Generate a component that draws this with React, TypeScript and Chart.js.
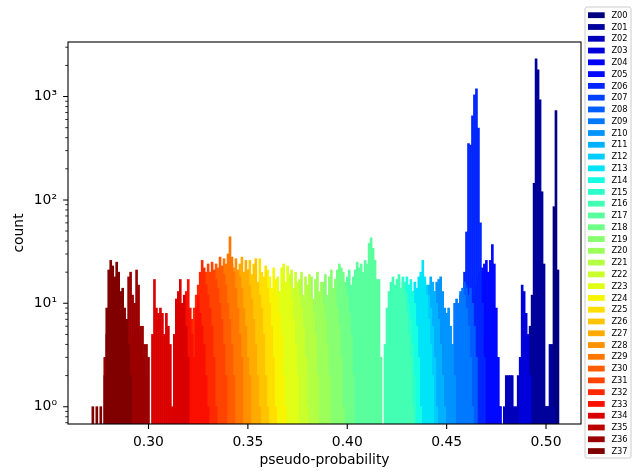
import React, { useEffect, useRef } from 'react';
import { Chart, registerables } from 'chart.js';

Chart.register(...registerables);

// ---------- data ----------
const seriesNames = [
  'Z00', 'Z01', 'Z02', 'Z03', 'Z04', 'Z05', 'Z06', 'Z07', 'Z08', 'Z09',
  'Z10', 'Z11', 'Z12', 'Z13', 'Z14', 'Z15', 'Z16', 'Z17', 'Z18', 'Z19',
  'Z20', 'Z21', 'Z22', 'Z23', 'Z24', 'Z25', 'Z26', 'Z27', 'Z28', 'Z29',
  'Z30', 'Z31', 'Z32', 'Z33', 'Z34', 'Z35', 'Z36', 'Z37',
];
const binWidth = 0.001;
// centre of the first bin of each series
const seriesStart = [
  0.499, 0.490, 0.477, 0.487, 0.461, 0.465, 0.458, 0.455, 0.453, 0.452,
  0.440, 0.436, 0.432, 0.429, 0.424, 0.421, 0.419, 0.399, 0.389, 0.383,
  0.377, 0.371, 0.365, 0.360, 0.354, 0.349, 0.344, 0.339, 0.335, 0.331,
  0.327, 0.323, 0.319, 0.316, 0.302, 0.289, 0.278, 0.272,
];
const Z00 = [1, 1, 1, 1, 3, 86, 730, 21];
const Z01 = [1, 3, 6, 12, 145, 2320, 1815, 930, 120, 24, 1, 1, 4, 4, 1];
const Z02 = [1, 0, 1, 2, 2, 2, 2, 1, 1, 2];
const Z03 = [3, 15, 13, 8, 5, 2];
const Z04 = [3, 6, 9, 12, 15, 18, 20, 16, 12, 8, 5, 2];
const Z05 = [4, 8, 12, 22, 24, 26, 20, 26, 37, 24, 9, 3, 1];
const Z06 = [8, 20, 49, 350, 340, 650, 1040, 1190, 495, 60, 10, 3];
const Z07 = [2, 4, 7, 10, 13, 15, 12, 9, 6, 3];
const Z08 = [1, 3, 6, 9, 12, 13, 16, 14, 12, 14, 10, 6, 3];
const Z09 = [2, 4, 10, 11, 10, 13, 14, 12, 9, 6, 3, 1];
const Z10 = [2, 4, 7, 10, 13, 16, 17, 18, 13, 9, 8, 9, 6, 4, 2];
const Z11 = [2, 4, 6, 9, 12, 15, 18, 16, 13, 10, 7, 4, 2, 1];
const Z12 = [2, 4, 7, 10, 13, 16, 19, 17, 15, 12, 9, 6, 3, 1];
const Z13 = [2, 4, 7, 10, 13, 16, 14, 18, 20, 26, 18, 12, 7, 4, 2];
const Z14 = [2, 4, 7, 10, 13, 16, 18, 15, 17, 13, 10, 6, 3, 1];
const Z15 = [2, 5, 9, 12, 15, 17, 14, 18, 16, 13, 10, 7, 4, 2];
const Z16 = [4, 9, 13, 16, 18, 15, 17, 19, 14, 16, 12, 8, 5, 3, 1];
const Z17 = [12, 18, 21, 15, 18, 21, 25, 22, 24, 20, 26, 24, 38, 43, 34, 26, 17, 17, 3];
const Z18 = [2, 4, 7, 10, 13, 17, 21, 24, 22, 20, 16, 12, 8, 5, 2];
const Z19 = [2, 5, 8, 12, 9, 16, 19, 12, 18, 21, 14, 17, 9, 6, 3, 1];
const Z20 = [3, 6, 10, 8, 14, 18, 11, 17, 20, 13, 16, 10, 7, 4, 2];
const Z21 = [2, 5, 9, 13, 10, 17, 20, 12, 18, 15, 19, 11, 8, 5, 2];
const Z22 = [2, 4, 8, 11, 15, 12, 19, 21, 14, 20, 16, 12, 9, 6, 3, 1];
const Z23 = [2, 4, 7, 11, 14, 18, 13, 22, 24, 16, 23, 15, 11, 7, 4, 2];
const Z24 = [2, 5, 8, 12, 10, 16, 21, 18, 14, 22, 17, 12, 8, 5, 2, 1];
const Z25 = [3, 6, 10, 13, 17, 21, 16, 27, 20, 18, 23, 14, 10, 6, 3, 1];
const Z26 = [2, 5, 8, 12, 17, 14, 21, 26, 19, 24, 27, 16, 12, 9, 5, 2, 1];
const Z27 = [2, 4, 7, 11, 15, 19, 14, 24, 28, 20, 26, 21, 15, 11, 7, 4, 2, 1];
const Z28 = [2, 3, 5, 8, 12, 16, 20, 24, 22, 27, 21, 18, 14, 9, 6, 3, 2];
const Z29 = [2, 4, 6, 9, 13, 18, 22, 27, 24, 30, 44, 28, 20, 14, 9, 5, 3];
const Z30 = [2, 3, 6, 9, 12, 16, 20, 24, 22, 28, 23, 19, 15, 10, 7, 4, 2];
const Z31 = [2, 4, 6, 9, 12, 16, 20, 24, 20, 25, 21, 17, 14, 10, 7, 4, 2];
const Z32 = [2, 3, 5, 7, 9, 12, 15, 20, 26, 22, 15, 12, 9, 6, 3, 1];
const Z33 = [3, 5, 8, 13, 17, 9, 5, 3, 9, 12, 8, 6, 4, 2, 1];
const Z34 = [5, 17, 9, 8, 9, 8, 5, 8, 6, 4, 1, 5, 11, 13, 17, 10, 12, 6, 3];
const Z35 = [2, 3, 4, 5, 4, 6, 5, 4, 3, 2, 2];
const Z36 = [3, 5, 8, 10, 12, 11, 9, 10, 8, 7, 6, 6, 18, 20, 12, 10, 21, 15, 6, 6, 4, 4, 3];
const Z37 = [1, 0, 1, 0, 1, 0, 2, 9, 21, 26, 23, 18, 25, 20, 13, 14, 9, 7, 4, 2];
const seriesCounts = [
  Z00, Z01, Z02, Z03, Z04, Z05, Z06, Z07, Z08, Z09,
  Z10, Z11, Z12, Z13, Z14, Z15, Z16, Z17, Z18, Z19,
  Z20, Z21, Z22, Z23, Z24, Z25, Z26, Z27, Z28, Z29,
  Z30, Z31, Z32, Z33, Z34, Z35, Z36, Z37,
];
const xTicks = [0.3, 0.35, 0.4, 0.45, 0.5];
const xTickLabels = ['0.30', '0.35', '0.40', '0.45', '0.50'];
const yMajorTicks = [1, 10, 100, 1000];
const yTickLabels = ['10\u2070', '10\u00b9', '10\u00b2', '10\u00b3'];
const xLimits = [0.2595, 0.5176];
const yLimits = [0.68, 3370];
const xTitle = 'pseudo-probability';
const yTitle = 'count';

// ---------- styling helpers ----------
const FONT = '"DejaVu Sans", "Liberation Sans", sans-serif';
const jetR = [[0, 0], [0.35, 0], [0.66, 1], [0.89, 1], [1, 0.5]];
const jetG = [[0, 0], [0.125, 0], [0.375, 1], [0.64, 1], [0.91, 0], [1, 0]];
const jetB = [[0, 0.5], [0.11, 1], [0.34, 1], [0.65, 0], [1, 0]];
function seg(pts: number[][], t: number) {
  for (let i = 1; i < pts.length; i++) {
    if (t <= pts[i][0]) {
      const [x0, y0] = pts[i - 1];
      const [x1, y1] = pts[i];
      return y0 + ((t - x0) / (x1 - x0)) * (y1 - y0);
    }
  }
  return pts[pts.length - 1][1];
}
function jet(t: number) {
  const q = Math.min(Math.floor(t * 256), 255) / 255;
  const c = [seg(jetR, q), seg(jetG, q), seg(jetB, q)].map((v) => Math.round(v * 255));
  return `rgb(${c[0]},${c[1]},${c[2]})`;
}
const colors = seriesNames.map((_, i) => jet(i / (seriesNames.length - 1)));

const mplPlugin = {
  id: 'mplDecor',
  afterDraw(chart: any) {
    const { ctx, chartArea: a, scales } = chart;
    const xs = scales.x;
    const ys = scales.y;
    ctx.save();
    ctx.strokeStyle = '#000';
    ctx.lineWidth = 1.1;
    ctx.beginPath();
    xTicks.forEach((v) => {
      const p = xs.getPixelForValue(v);
      ctx.moveTo(p, a.bottom);
      ctx.lineTo(p, a.bottom + 4.9);
    });
    yMajorTicks.forEach((v) => {
      const p = ys.getPixelForValue(v);
      ctx.moveTo(a.left - 4.9, p);
      ctx.lineTo(a.left, p);
    });
    ctx.stroke();
    ctx.lineWidth = 0.8;
    ctx.beginPath();
    for (let d = -1; d <= 3; d++) {
      for (let m = 2; m <= 9; m++) {
        const v = m * Math.pow(10, d);
        if (v < ys.min || v > ys.max) continue;
        const p = ys.getPixelForValue(v);
        ctx.moveTo(a.left - 2.8, p);
        ctx.lineTo(a.left, p);
      }
    }
    ctx.stroke();
    ctx.lineWidth = 1.1;
    ctx.strokeRect(a.left, a.top, a.right - a.left, a.bottom - a.top);

    // legend
    const lx = 585, ly = 7, lw = 46, lh = 451, r = 2;
    ctx.beginPath();
    ctx.moveTo(lx + r, ly);
    ctx.lineTo(lx + lw - r, ly);
    ctx.quadraticCurveTo(lx + lw, ly, lx + lw, ly + r);
    ctx.lineTo(lx + lw, ly + lh - r);
    ctx.quadraticCurveTo(lx + lw, ly + lh, lx + lw - r, ly + lh);
    ctx.lineTo(lx + r, ly + lh);
    ctx.quadraticCurveTo(lx, ly + lh, lx, ly + lh - r);
    ctx.lineTo(lx, ly + r);
    ctx.quadraticCurveTo(lx, ly, lx + r, ly);
    ctx.closePath();
    ctx.fillStyle = 'rgba(255,255,255,0.8)';
    ctx.fill();
    ctx.strokeStyle = '#cccccc';
    ctx.lineWidth = 1;
    ctx.stroke();
    ctx.font = `8.3px ${FONT}`;
    ctx.textBaseline = 'middle';
    ctx.textAlign = 'left';
    seriesNames.forEach((name, i) => {
      const cy = 15.2 + i * 11.78;
      ctx.fillStyle = colors[i];
      ctx.fillRect(588, cy - 2.9, 16.7, 5.8);
      ctx.fillStyle = '#000';
      ctx.fillText(name, 611.4, cy + 0.5);
    });
    ctx.restore();
  },
};

export default function App() {
  const ref = useRef<HTMLCanvasElement>(null);
  useEffect(() => {
    document.body.style.margin = '0';
    const datasets = seriesNames.map((name, i) => ({
      label: name,
      data: seriesCounts[i]
        .map((c, k) => ({ x: Math.round((seriesStart[i] + k * binWidth) * 1e6) / 1e6, y: c }))
        .filter((p) => p.y > 0),
      backgroundColor: colors[i],
      borderWidth: 0,
      order: seriesNames.length - i,
      grouped: false,
      barPercentage: 1,
      categoryPercentage: 1,
    }));
    const chart = new Chart(ref.current as HTMLCanvasElement, {
      type: 'bar',
      data: { datasets } as any,
      plugins: [mplPlugin],
      options: {
        animation: false,
        responsive: false,
        maintainAspectRatio: false,
        layout: { padding: { top: 42, right: 58, left: 0, bottom: 0 } },
        plugins: { legend: { display: false }, tooltip: { enabled: false } },
        scales: {
          x: {
            type: 'linear',
            min: xLimits[0],
            max: xLimits[1],
            offset: false,
            grid: { display: false, drawTicks: false },
            border: { display: false },
            afterBuildTicks: (s: any) => {
              s.ticks = xTicks.map((v) => ({ value: v }));
            },
            afterFit: (s: any) => {
              s.height = 48;
            },
            ticks: {
              autoSkip: false,
              maxRotation: 0,
              padding: 10,
              color: '#000',
              font: { family: FONT, size: 13.9 },
              callback: (v: any) => xTickLabels[xTicks.indexOf(v)] ?? '',
            },
            title: {
              display: true,
              text: xTitle,
              color: '#000',
              font: { family: FONT, size: 13.9 },
              padding: { top: 0, bottom: 3 },
            },
          },
          y: {
            type: 'logarithmic',
            min: yLimits[0],
            max: yLimits[1],
            grid: { display: false, drawTicks: false },
            border: { display: false },
            afterBuildTicks: (s: any) => {
              s.ticks = yMajorTicks.map((v) => ({ value: v }));
            },
            afterFit: (s: any) => {
              s.width = 68;
            },
            ticks: {
              autoSkip: false,
              padding: 11,
              color: '#000',
              font: { family: FONT, size: 13.9 },
              callback: (v: any) => yTickLabels[yMajorTicks.indexOf(v)] ?? '',
            },
            title: {
              display: true,
              text: yTitle,
              color: '#000',
              font: { family: FONT, size: 13.9 },
              padding: { top: 11, bottom: 0 },
            },
          },
        },
      } as any,
    });
    return () => chart.destroy();
  }, []);
  return (
    <div style={{ position: 'relative', width: 639, height: 472, background: '#fff' }}>
      <canvas ref={ref} width={639} height={472} style={{ display: 'block', width: 639, height: 472 }} />
    </div>
  );
}
